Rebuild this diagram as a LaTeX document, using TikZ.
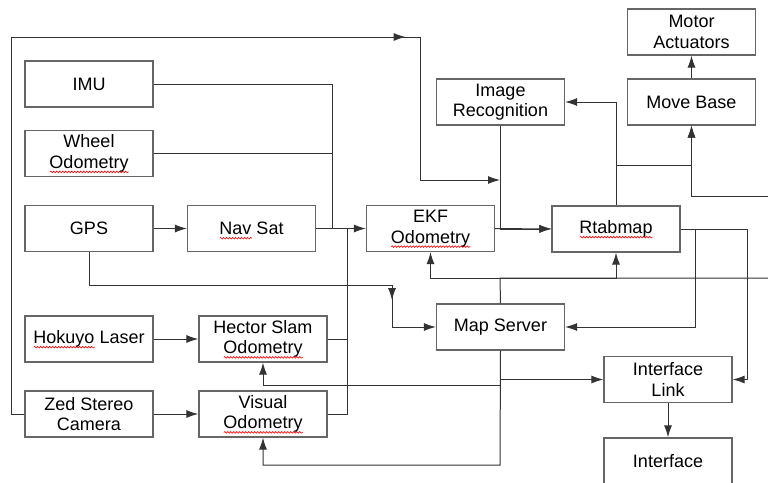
\documentclass[tikz,border=0pt]{standalone}
\usepackage{fontspec}
\setmainfont{Liberation Sans}
\usetikzlibrary{arrows.meta,calc,decorations.pathmorphing}
\newsavebox\spellbox
\newcommand\spellerr[1]{\sbox\spellbox{#1}\rlap{\smash{\tikz[baseline=0pt]\draw[red,line width=.6pt,decorate,decoration={snake,amplitude=.8pt,segment length=3pt}] (0pt,-3.5pt) -- (\the\wd\spellbox,-3.5pt);}}\usebox\spellbox}
\begin{document}
\begin{tikzpicture}[x=1pt,y=-1pt,
 box/.style={draw=black!60,line width=1.2pt,minimum width=128pt,minimum height=46pt,align=center,inner sep=1pt,font=\fontsize{18}{20.5}\selectfont},
 arr/.style={-{Latex[length=12pt,width=8pt]}},
 line/.style={line width=1pt,draw=black!80}]
 \useasboundingbox (0,0) rectangle (768,482);
 \node[box] (imu) at (89,84) {IMU};
 \node[box] (wheel) at (89,153.5) {Wheel\\\spellerr{Odometry}};
 \node[box] (gps) at (89,228.5) {GPS};
 \node[box] (navsat) at (251.5,228.5) {\spellerr{Nav} Sat};
 \node[box] (ekf) at (430.5,228.5) {EKF\\\spellerr{Odometry}};
 \node[box] (rtab) at (616,229) {\spellerr{Rtabmap}};
 \node[box] (imgrec) at (500.5,102) {Image\\Recognition};
 \node[box] (movebase) at (691.5,102) {Move Base};
 \node[box] (motor) at (691.5,32) {Motor\\Actuators};
 \node[box] (mapsrv) at (500.5,327) {Map Server};
 \node[box] (iflink) at (668,379.5) {Interface\\Link};
 \node[box] (iface) at (668,461) {Interface};
 \node[box] (hokuyo) at (89,339) {\spellerr{Hokuyo} Laser};
 \node[box] (hector) at (263,339) {Hector Slam\\\spellerr{Odometry}};
 \node[box] (zed) at (89,414) {Zed Stereo\\Camera};
 \node[box] (visodo) at (263,414) {Visual\\\spellerr{Odometry}};
 % junction points
 \coordinate (tl) at (11,37); \coordinate (tr) at (420,37); \coordinate (j) at (500,180);
 \coordinate (m1) at (332,228.5); \coordinate (m2) at (347,228.5); \coordinate (g1) at (392,285);
 \coordinate (r1) at (616,165); \coordinate (e1) at (768,196); \coordinate (e2) at (768,278);
 \coordinate (s1) at (500,278); \coordinate (s2) at (500,465); \coordinate (s3) at (500,385);
 \begin{scope}[line]
 % camera loop
 \draw[arr] (zed.west) -| (tl) -- ($(tl)!.965!(tr)$);
 \draw[arr] (tl) -- (tr) |- (j);
 % odometry inputs
 \draw (imu.east) -| (m1); \draw (wheel.east) -- (wheel.east -| m1);
 \draw (hector.east) -| (m2); \draw (visodo.east) -| (m2);
 \draw[arr] (gps) -- (navsat); \draw[arr] (navsat) -- (ekf);
 \draw[arr] (hokuyo) -- (hector); \draw[arr] (zed) -- (visodo);
 \draw (gps.south) |- (g1); \draw[arr] (g1) -- ($(g1)!.36!(g1 |- mapsrv.west)$);
 \draw[arr] (g1) |- (mapsrv.west);
 % rtabmap
 \draw[arr] (ekf) -- (rtab); \draw[arr] (imgrec.south) |- (rtab.west);
 \draw[arr] (rtab.north) |- (imgrec.east);
 \draw[arr] (r1) -| (movebase.south); \draw[arr] (e1) -| (movebase.south);
 \draw[arr] (movebase) -- (motor);
 \draw[arr] (rtab.east) -- ++(15,0) |- (mapsrv.east);
 \draw[arr] (rtab.east) -- ++(67,0) |- (iflink.east);
 % map server
 \draw (mapsrv.north) -- (s1) -- (e2);
 \draw[arr] (s1) -| (ekf.south); \draw[arr] (s1) -| (rtab.south);
 \draw[arr] (mapsrv.south) -- (s2) -| (visodo.south);
 \draw[arr] (s3) -| (hector.south);
 \draw[arr] (mapsrv.south |- iflink.west) -- (iflink.west);
 \draw[arr] (iflink) -- (iface);
 \end{scope}
\end{tikzpicture}
\end{document}
